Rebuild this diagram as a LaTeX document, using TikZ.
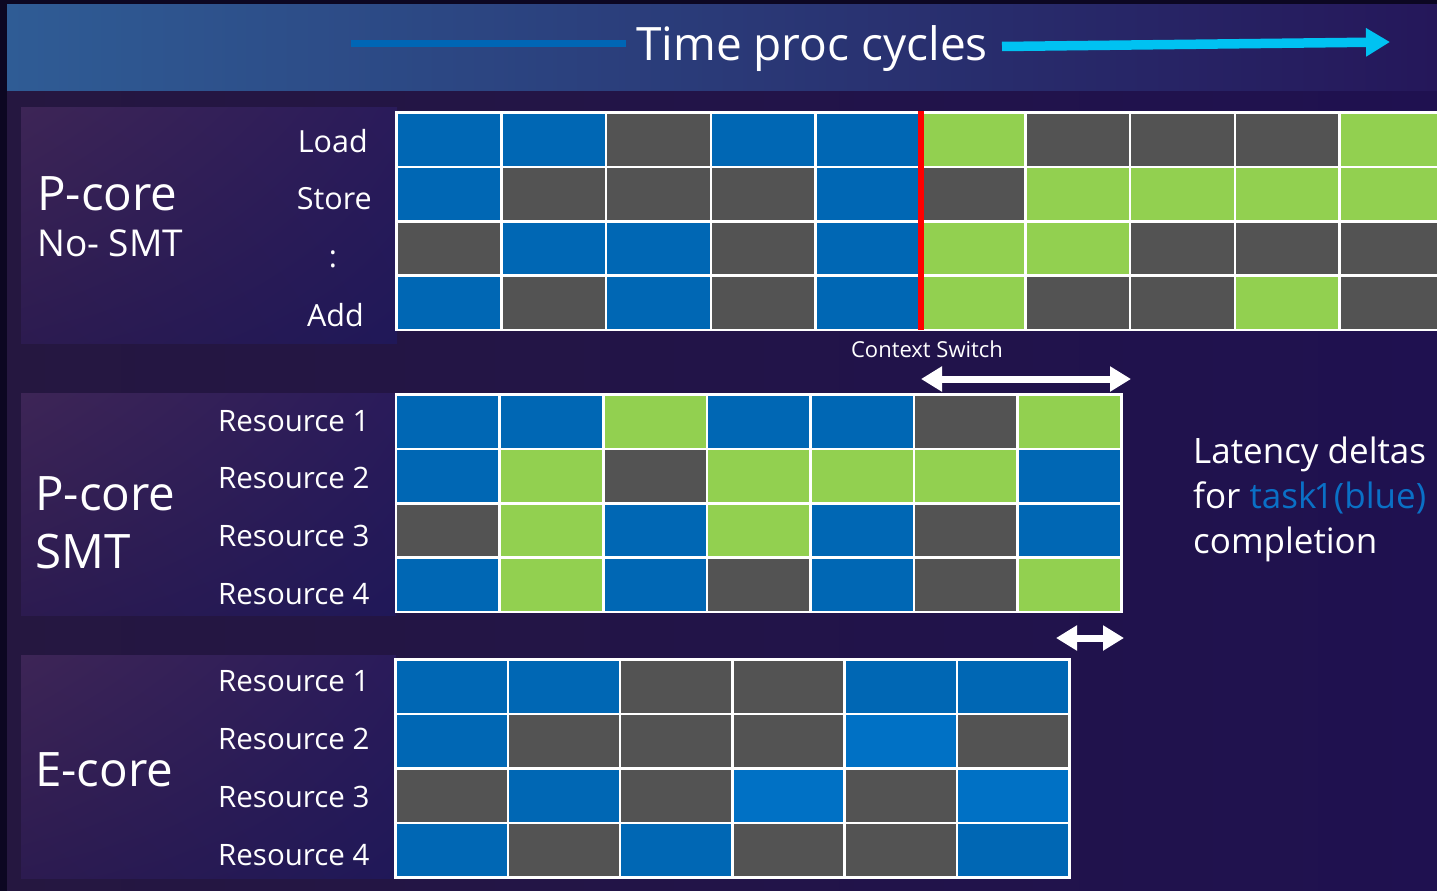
\documentclass[tikz,border=0pt]{standalone}
\usepackage{fontspec}
\setmainfont{Open Sans}
\usetikzlibrary{arrows.meta,shadings}
\definecolor{cB}{HTML}{0067B4}
\definecolor{cC}{HTML}{0071C5}
\definecolor{cG}{HTML}{535353}
\definecolor{cL}{HTML}{92D050}
\definecolor{bgL}{HTML}{251740}
\definecolor{bgR}{HTML}{1F1150}
\definecolor{edge}{HTML}{0C0722}
\definecolor{hdL}{HTML}{2F5C95}
\definecolor{hdM}{HTML}{24296C}
\definecolor{hdR}{HTML}{25175A}
\definecolor{pnUL}{HTML}{3D2556}
\definecolor{pnUR}{HTML}{2A1B5A}
\definecolor{pnLL}{HTML}{2C1B50}
\definecolor{pnLR}{HTML}{201858}
\definecolor{tb}{HTML}{0A70C6}
\definecolor{cyanarrow}{HTML}{00C2F2}
\definecolor{hline}{HTML}{0066B5}
\tikzset{
  cell/.style={draw=white, line width=2.6pt, inner sep=0pt, outer sep=0pt, anchor=north west},
  lbl/.style={text=white, inner sep=0pt, font=\fontsize{29.5}{34}\selectfont},
  big/.style={text=white, inner sep=0pt, font=\fontsize{47.5}{52}\selectfont},
  mid/.style={text=white, inner sep=0pt, font=\fontsize{35}{40}\selectfont},
  panel/.style={upper left=pnUL, upper right=pnUR, lower left=pnLL, lower right=pnLR},
  dblarrow/.style={draw=white, line width=7pt, {Triangle[width=24pt,length=21pt]}-{Triangle[width=24pt,length=21pt]}},
}
\begin{document}
\begin{tikzpicture}[x=1pt,y=-1pt]
\useasboundingbox (0,0) rectangle (1437,891);
\clip (0,0) rectangle (1437,891);
% background
\shade[left color=bgL, right color=bgR] (0,0) rectangle (1437,891);
\fill[edge] (0,0) rectangle (7,891);
\fill[edge] (0,0) rectangle (1437,5);
% header band
\shade[left color=hdL, middle color=hdM, right color=hdR] (7,5) rectangle (1437,90);
% panels
\shade[panel] (21,107) rectangle (397,343);
\shade[panel] (21,393) rectangle (396,615);
\shade[panel] (21,655) rectangle (396,878);

% header
\node[text=white, inner sep=0pt, font=\fontsize{46}{52}\selectfont, anchor=base] (time) at (812,61) {Time proc cycles};
\coordinate (hl1) at (351,44);
\coordinate (hl2) at (626,44);
\draw[hline, line width=7pt] (hl1) -- (hl2);
\coordinate (ca1) at (1002,46.5);
\coordinate (ca2) at (1390,42);
\draw[cyanarrow, line width=9.5pt, -{Triangle[width=27pt,length=24pt]}] (ca1) -- (ca2);

% grid 1: P-core No-SMT
\foreach \row [count=\r] in {{B,B,G,B,B,L,G,G,G,L},{B,G,G,G,B,G,L,L,L,L},{G,B,B,G,B,L,L,G,G,G},{B,G,B,G,B,L,G,G,L,G}}{
  \foreach \c [count=\i] in \row {
    \node[cell, fill=c\c, minimum width=104.8pt, minimum height=54.4pt] (ga-\r-\i) at ({396.5+(\i-1)*104.8},{112.5+(\r-1)*54.4}) {};
  }
}
\draw[red, line width=6.5pt] ([xshift=0.5pt,yshift=1.5pt]ga-1-5.north east) -- ([xshift=0.5pt]ga-4-5.south east);

% grid 2: P-core SMT
\foreach \row [count=\r] in {{B,B,L,B,B,G,L},{B,L,G,L,L,L,B},{G,L,B,L,B,G,B},{B,L,B,G,B,G,L}}{
  \foreach \c [count=\i] in \row {
    \node[cell, fill=c\c, minimum width=103.6pt, minimum height=54.4pt] (gb-\r-\i) at ({396+(\i-1)*103.6},{394.5+(\r-1)*54.4}) {};
  }
}

% grid 3: E-core
\foreach \row [count=\r] in {{B,B,G,G,B,B},{B,G,G,G,C,G},{G,B,G,C,G,C},{B,G,B,G,G,B}}{
  \foreach \c [count=\i] in \row {
    \node[cell, fill=c\c, minimum width=112.3pt, minimum height=54.5pt] (gc-\r-\i) at ({395.5+(\i-1)*112.3},{659.5+(\r-1)*54.5}) {};
  }
}

% context switch
\node[text=white, inner sep=0pt, font=\fontsize{22}{26}\selectfont, anchor=base] (cs) at (927,357) {Context Switch};
\coordinate (da1) at (921,379);
\coordinate (da2) at (1131,379);
\draw[dblarrow] (da1) -- (da2);
\coordinate (db1) at (1056,638);
\coordinate (db2) at (1124,638);
\draw[dblarrow] (db1) -- (db2);

% panel 1 labels
\node[big, anchor=base west] (p1a) at (37,210) {P-core};
\node[mid, anchor=base west, font=\fontsize{37}{42}\selectfont] (p1b) at (37,256) {No- SMT};
\node[lbl, anchor=base east, font=\fontsize{30.5}{35}\selectfont] (load) at (368,152) {Load};
\node[lbl, anchor=base east, font=\fontsize{30.5}{35}\selectfont] (store) at (372,209) {Store};
\node[lbl, anchor=base, font=\fontsize{30.5}{35}\selectfont] (dots) at (333,267) {:};
\node[lbl, anchor=base east, font=\fontsize{30.5}{35}\selectfont] (add) at (364,326) {Add};

% panel 2 labels
\node[big, anchor=base west] (p2a) at (35,510) {P-core};
\node[big, anchor=base west] (p2b) at (35,568) {SMT};
\node[lbl, anchor=base west] (r21) at (218,431) {Resource 1};
\node[lbl, anchor=base west] (r22) at (218,488) {Resource 2};
\node[lbl, anchor=base west] (r23) at (218,546) {Resource 3};
\node[lbl, anchor=base west] (r24) at (218,604) {Resource 4};

% panel 3 labels
\node[big, anchor=base west] (p3a) at (35,786) {E-core};
\node[lbl, anchor=base west] (r31) at (218,691) {Resource 1};
\node[lbl, anchor=base west] (r32) at (218,749) {Resource 2};
\node[lbl, anchor=base west] (r33) at (218,807) {Resource 3};
\node[lbl, anchor=base west] (r34) at (218,865) {Resource 4};

% right note
\node[mid, anchor=base west] (n1) at (1193,463) {Latency deltas};
\node[mid, anchor=base west] (n2) at (1193,508) {for \textcolor{tb}{task\kern-3pt1\kern-3pt\hspace{0.1em}(blue)}};
\node[mid, anchor=base west] (n3) at (1193,553) {completion};
\end{tikzpicture}
\end{document}
